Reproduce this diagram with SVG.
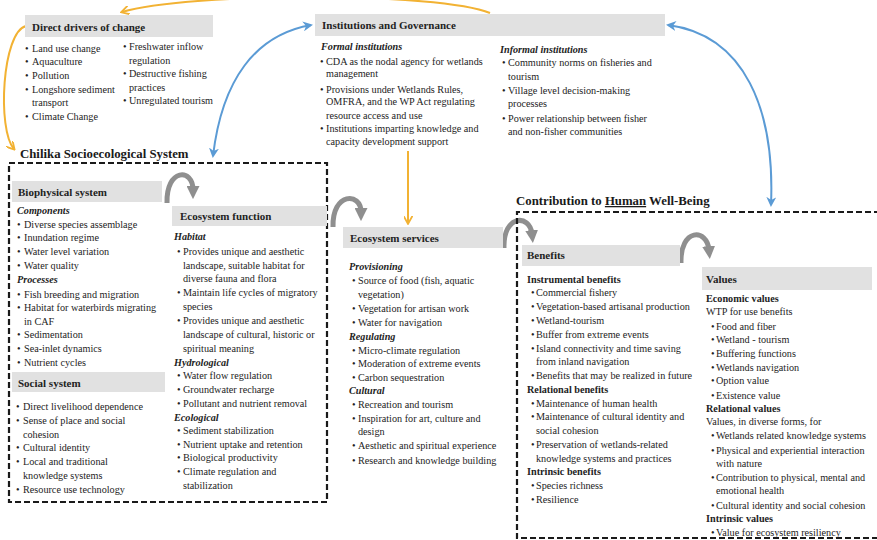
<svg xmlns="http://www.w3.org/2000/svg" width="877" height="540" viewBox="0 0 877 540">
<defs>
<style>
text{font-family:"Liberation Serif","Times New Roman",serif;font-size:10.2px;fill:#232323}
.h{font-weight:bold;font-size:11px}
.sub{font-style:italic;font-weight:bold}
.b{font-weight:bold}
.ttl{font-weight:bold;font-size:12.8px;fill:#1a1a1a}
.band{fill:#e1e1e1}
.dash{fill:none;stroke:#1a1a1a;stroke-width:2.2;stroke-dasharray:6 3}
.blue{fill:none;stroke:#5b9bd5;stroke-width:2}
.orange{fill:none;stroke:#f2b233;stroke-width:2}
.gray{fill:none;stroke:#8f8f8f;stroke-width:5}
</style>
<marker id="mb" viewBox="0 0 10 10" refX="8" refY="5" markerUnits="userSpaceOnUse" markerWidth="10" markerHeight="10" orient="auto-start-reverse"><path d="M0,0 L10,5 L0,10 L3,5 z" fill="#5b9bd5"/></marker>
<marker id="mo" viewBox="0 0 10 10" refX="8" refY="5" markerUnits="userSpaceOnUse" markerWidth="9" markerHeight="9" orient="auto"><path d="M0,0 L9,5 L0,10" fill="none" stroke="#f2b233" stroke-width="2"/></marker>
<marker id="mg" viewBox="0 0 10 10" refX="3" refY="5" markerUnits="userSpaceOnUse" markerWidth="13" markerHeight="13" orient="auto"><path d="M0,0 L10,5 L0,10 z" fill="#8f8f8f"/></marker>
</defs>

<g id="connectors">
<path class="orange" d="M490,13 C440,-8 190,-8 122,12" marker-end="url(#mo)"/>
<path class="orange" d="M26,26 C2,32 -3,130 14,149" marker-end="url(#mo)"/>
<path class="orange" d="M408,151 L408,223" marker-end="url(#mo)"/>
<path class="blue" d="M213,156 C222,80 255,35 311,25" marker-start="url(#mb)" marker-end="url(#mb)"/>
<path class="blue" d="M668,25 C745,35 775,110 771,205" marker-start="url(#mb)" marker-end="url(#mb)"/>
<path class="gray" d="M167,203 C166,168 193,168 193,190" marker-end="url(#mg)"/>
<path class="gray" d="M333,227 C332,192 361,192 361,212" marker-end="url(#mg)"/>
<path class="gray" d="M504,248 C503,214 530,214 532,234" marker-end="url(#mg)"/>
<path class="gray" d="M681,263 C680,228 707,228 709,250" marker-end="url(#mg)"/>
</g>

<g id="drivers">
<rect class="band" x="25" y="15" width="188" height="22"/>
<text class="h" x="32" y="30.5">Direct drivers of change</text>
<text x="25" y="52">•</text><text x="32" y="52">Land use change</text>
<text x="25" y="65">•</text><text x="32" y="65">Aquaculture</text>
<text x="25" y="79">•</text><text x="32" y="79">Pollution</text>
<text x="25" y="93">•</text><text x="32" y="93">Longshore sediment</text>
<text x="32" y="106">transport</text>
<text x="25" y="120">•</text><text x="32" y="120">Climate Change</text>
<text x="123" y="50">•</text><text x="129" y="50">Freshwater inflow</text>
<text x="129" y="63.5">regulation</text>
<text x="123" y="77">•</text><text x="129" y="77">Destructive fishing</text>
<text x="129" y="91">practices</text>
<text x="123" y="104">•</text><text x="129" y="104">Unregulated tourism</text>
</g>

<g id="institutions">
<rect class="band" x="315" y="14" width="350" height="22"/>
<text class="h" x="322" y="29">Institutions and Governance</text>
<text class="sub" x="321" y="50">Formal institutions</text>
<text x="320" y="65">•</text><text x="326" y="65">CDA as the nodal agency for wetlands</text>
<text x="326" y="77">management</text>
<text x="320" y="92.5">•</text><text x="326" y="92.5">Provisions under Wetlands Rules,</text>
<text x="326" y="104.5">OMFRA, and the WP Act regulating</text>
<text x="326" y="118.5">resource access and use</text>
<text x="320" y="132">•</text><text x="326" y="132">Institutions imparting knowledge and</text>
<text x="326" y="145">capacity development support</text>
<text class="sub" x="500" y="52.5">Informal institutions</text>
<text x="502" y="66">•</text><text x="508" y="66">Community norms on fisheries and</text>
<text x="508" y="79.5">tourism</text>
<text x="502" y="93.5">•</text><text x="508" y="93.5">Village level decision-making</text>
<text x="508" y="107">processes</text>
<text x="502" y="121.5">•</text><text x="508" y="121.5">Power relationship between fisher</text>
<text x="508" y="135">and non-fisher communities</text>
</g>

<g id="chilika">
<text class="ttl" x="20" y="158">Chilika Socioecological System</text>
<rect class="dash" x="9" y="163" width="318" height="339"/>
</g>

<g id="biophysical">
<rect class="band" x="12" y="181" width="150" height="21"/>
<text class="h" x="18" y="195.5">Biophysical system</text>
<text class="sub" x="17" y="213.5">Components</text>
<text x="17" y="227.5">•</text><text x="24" y="227.5">Diverse species assemblage</text>
<text x="17" y="241">•</text><text x="24" y="241">Inundation regime</text>
<text x="17" y="255">•</text><text x="24" y="255">Water level variation</text>
<text x="17" y="268.5">•</text><text x="24" y="268.5">Water quality</text>
<text class="sub" x="17" y="283">Processes</text>
<text x="17" y="297.5">•</text><text x="24" y="297.5">Fish breeding and migration</text>
<text x="17" y="311">•</text><text x="24" y="311">Habitat  for waterbirds migrating</text>
<text x="24" y="324.5">in CAF</text>
<text x="17" y="338">•</text><text x="24" y="338">Sedimentation</text>
<text x="17" y="352">•</text><text x="24" y="352">Sea-inlet dynamics</text>
<text x="17" y="366">•</text><text x="24" y="366">Nutrient cycles</text>
</g>

<g id="social">
<rect class="band" x="12" y="372" width="153" height="20"/>
<text class="h" x="18" y="386.5">Social system</text>
<text x="16" y="410">•</text><text x="23" y="410">Direct livelihood dependence</text>
<text x="16" y="424">•</text><text x="23" y="424">Sense of place and social</text>
<text x="23" y="437.5">cohesion</text>
<text x="16" y="451">•</text><text x="23" y="451">Cultural identity</text>
<text x="16" y="465">•</text><text x="23" y="465">Local and traditional</text>
<text x="23" y="479">knowledge systems</text>
<text x="16" y="493">•</text><text x="23" y="493">Resource use technology</text>
</g>

<g id="ecosystem-function">
<rect class="band" x="172" y="206" width="155" height="20"/>
<text class="h" x="180" y="220">Ecosystem function</text>
<text class="sub" x="174" y="240">Habitat</text>
<text x="177" y="255">•</text><text x="183" y="255">Provides unique and aesthetic</text>
<text x="183" y="268.5">landscape, suitable habitat for</text>
<text x="183" y="282">diverse fauna and flora</text>
<text x="177" y="296">•</text><text x="183" y="296">Maintain life cycles of migratory</text>
<text x="183" y="309.5">species</text>
<text x="177" y="323.5">•</text><text x="183" y="323.5">Provides unique and aesthetic</text>
<text x="183" y="337.5">landscape of cultural, historic or</text>
<text x="183" y="351.5">spiritual meaning</text>
<text class="sub" x="174" y="366">Hydrological</text>
<text x="177" y="378.5">•</text><text x="183" y="378.5">Water flow regulation</text>
<text x="177" y="393">•</text><text x="183" y="393">Groundwater recharge</text>
<text x="177" y="407">•</text><text x="183" y="407">Pollutant and nutrient removal</text>
<text class="sub" x="174" y="421">Ecological</text>
<text x="177" y="433.5">•</text><text x="183" y="433.5">Sediment stabilization</text>
<text x="177" y="447.5">•</text><text x="183" y="447.5">Nutrient uptake and retention</text>
<text x="177" y="461">•</text><text x="183" y="461">Biological productivity</text>
<text x="177" y="475">•</text><text x="183" y="475">Climate regulation and</text>
<text x="183" y="489">stabilization</text>
</g>

<g id="ecosystem-services">
<rect class="band" x="343" y="227" width="160" height="21"/>
<text class="h" x="350" y="242">Ecosystem services</text>
<text class="sub" x="349" y="270">Provisioning</text>
<text x="352" y="284">•</text><text x="358" y="284">Source of food (fish, aquatic</text>
<text x="358" y="297.5">vegetation)</text>
<text x="352" y="312">•</text><text x="358" y="312">Vegetation for artisan work</text>
<text x="352" y="326">•</text><text x="358" y="326">Water for navigation</text>
<text class="sub" x="349" y="339.5">Regulating</text>
<text x="352" y="353.5">•</text><text x="358" y="353.5">Micro-climate regulation</text>
<text x="352" y="367">•</text><text x="358" y="367">Moderation of extreme events</text>
<text x="352" y="381">•</text><text x="358" y="381">Carbon sequestration</text>
<text class="sub" x="349" y="394">Cultural</text>
<text x="352" y="408">•</text><text x="358" y="408">Recreation and tourism</text>
<text x="352" y="422">•</text><text x="358" y="422">Inspiration for art, culture and</text>
<text x="358" y="435">design</text>
<text x="352" y="449">•</text><text x="358" y="449">Aesthetic and spiritual experience</text>
<text x="352" y="463.5">•</text><text x="358" y="463.5">Research and knowledge building</text>
</g>

<g id="wellbeing">
<text class="ttl" x="516" y="205">Contribution to <tspan text-decoration="underline">Human</tspan> Well-Being</text>
<path class="dash" d="M880,212 H517 V538 H880"/>
</g>

<g id="benefits">
<rect class="band" x="522" y="245" width="158" height="21"/>
<text class="h" x="527" y="259">Benefits</text>
<text class="b" x="527" y="283">Instrumental benefits</text>
<text x="531" y="296">•</text><text x="536" y="296">Commercial fishery</text>
<text x="531" y="310">•</text><text x="536" y="310">Vegetation-based artisanal production</text>
<text x="531" y="323.5">•</text><text x="536" y="323.5">Wetland-tourism</text>
<text x="531" y="338">•</text><text x="536" y="338">Buffer from extreme events</text>
<text x="531" y="352">•</text><text x="536" y="352">Island connectivity and time saving</text>
<text x="536" y="365">from inland navigation</text>
<text x="531" y="379">•</text><text x="536" y="379">Benefits that may be realized in future</text>
<text class="b" x="527" y="392.5">Relational benefits</text>
<text x="531" y="407">•</text><text x="536" y="407">Maintenance of human health</text>
<text x="531" y="420">•</text><text x="536" y="420">Maintenance of cultural identity and</text>
<text x="536" y="434">social cohesion</text>
<text x="531" y="447.5">•</text><text x="536" y="447.5">Preservation of wetlands-related</text>
<text x="536" y="462">knowledge systems and practices</text>
<text class="b" x="527" y="475">Intrinsic benefits</text>
<text x="531" y="489">•</text><text x="536" y="489">Species richness</text>
<text x="531" y="502.5">•</text><text x="536" y="502.5">Resilience</text>
</g>

<g id="values">
<rect class="band" x="702" y="267" width="170" height="23"/>
<text class="h" x="706" y="283">Values</text>
<text class="b" x="706" y="302">Economic values</text>
<text x="706" y="315">WTP for use benefits</text>
<text x="711" y="329.5">•</text><text x="716" y="329.5">Food and fiber</text>
<text x="711" y="343">•</text><text x="716" y="343">Wetland - tourism</text>
<text x="711" y="357">•</text><text x="716" y="357">Buffering functions</text>
<text x="711" y="371">•</text><text x="716" y="371">Wetlands navigation</text>
<text x="711" y="384">•</text><text x="716" y="384">Option value</text>
<text x="711" y="398.5">•</text><text x="716" y="398.5">Existence value</text>
<text class="b" x="706" y="412">Relational values</text>
<text x="706" y="425">Values, in diverse forms, for</text>
<text x="711" y="439">•</text><text x="716" y="439">Wetlands related knowledge systems</text>
<text x="711" y="453.5">•</text><text x="716" y="453.5">Physical and experiential interaction</text>
<text x="716" y="467">with nature</text>
<text x="711" y="481">•</text><text x="716" y="481">Contribution to physical, mental and</text>
<text x="716" y="494">emotional health</text>
<text x="711" y="508.5">•</text><text x="716" y="508.5">Cultural identity and social cohesion</text>
<text class="b" x="706" y="522">Intrinsic values</text>
<text x="711" y="536">•</text><text x="716" y="536">Value for ecosystem resiliency</text>
</g>
</svg>
